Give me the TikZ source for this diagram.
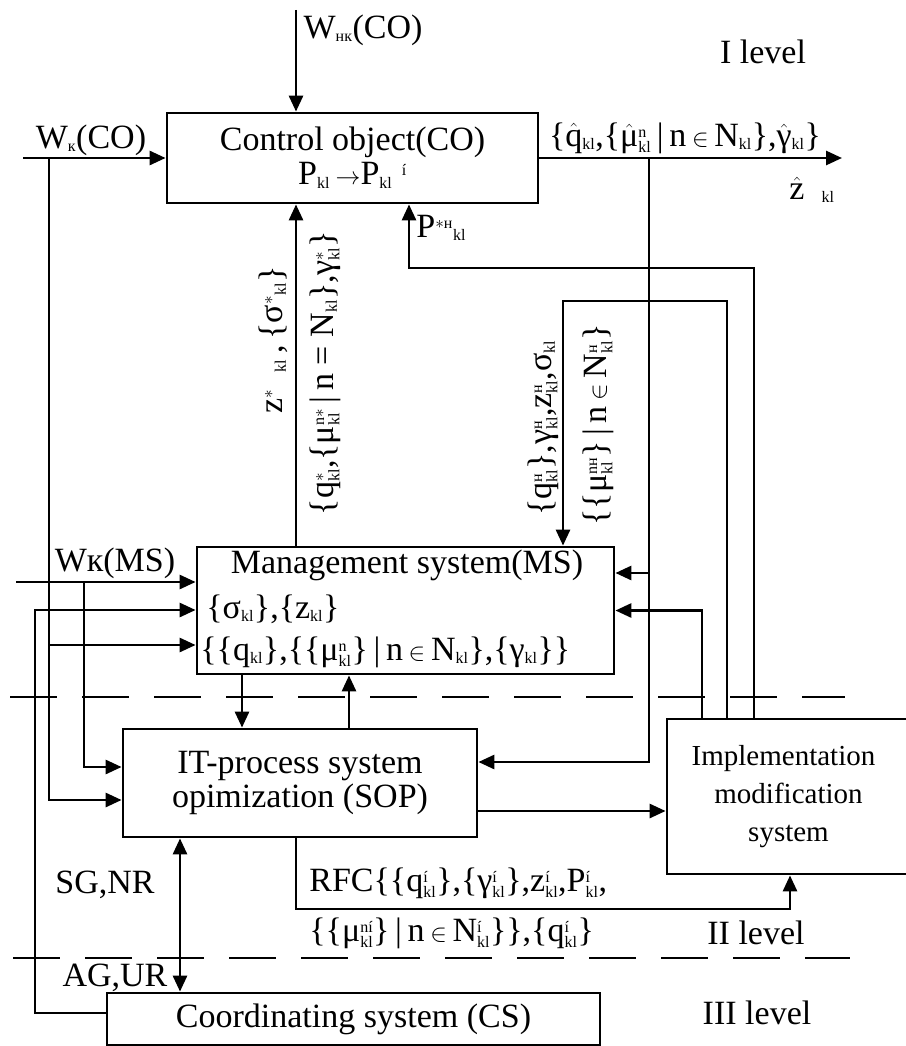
\documentclass[tikz,border=0pt]{standalone}
\usepackage{amsmath}
\usepackage{fontspec}
\setmainfont{Liberation Serif}
\usetikzlibrary{arrows.meta}
\DeclareMathSizes{34}{34}{16}{12}
\DeclareMathSizes{29}{29}{14}{10}
\newcommand{\subkl}{\ensuremath{_{\text{kl}}}}
\newcommand{\supkl}[1]{\ensuremath{^{\text{#1}}_{\text{kl}}}}

\begin{document}
\begin{tikzpicture}[x=1pt, y=-1pt, line width=2.8pt,
    >={Triangle[length=16pt, width=14pt]},
    every node/.style={font=\fontsize{34}{38}\selectfont, inner sep=0pt},
    block/.style={rectangle, draw, line width=2.8pt, align=center},
    levelline/.style={line width=2.8pt, dash pattern=on 47pt off 25pt}]
  \useasboundingbox (0,0) rectangle (905,1046);

  % boxes
  \node (co) [block, minimum width=371, minimum height=90] at (352.5,158)
    {Control object(CO)\\[-4pt]P\subkl\,$\rightarrow$P\subkl\ensuremath{^{\;\;\text{í}}}};
  \node (ms) [block, minimum width=417, minimum height=127] at (405.5,610.5) {};
  \node (sop) [block, minimum width=354, minimum height=108] at (300,783)
    {IT-process system\\[-4pt]opimization (SOP)};
  \node (ims) [block, minimum width=243, minimum height=155, font=\fontsize{29}{37}\selectfont] at (788.5,796.5)
    {\hspace*{-10pt}Implementation\\[1pt]modification\\[1pt]system};
  \node (cs) [block, minimum width=493, minimum height=52] at (353.5,1019) {Coordinating system (CS)};

  \node (mstitle) at (407,565) {Management system(MS)};
  \node (msin) [anchor=west] at (205,609) {\{σ\subkl\},\{z\subkl\}};
  \node (msout) [anchor=west] at (199,652) {\{\{q\subkl\},\{\{μ\supkl{n}\}\,|\,n\,$\in$\,N\subkl\},\{γ\subkl\}\}};

  % level separators
  \draw[levelline] (10,697) -- (845,697);
  \draw[levelline] (13,958) -- (850,958);
  \node (lv1) at (763,52) {I level};
  \node (lv2) at (756,933) {II level};
  \node (lv3) at (757,1013) {III level};

  % helper points
  \coordinate (wnk) at (296,10);
  \coordinate (wk) at (23,158);
  \coordinate (wkd) at (49,158);
  \coordinate (zout) at (842,158);
  \coordinate (fb) at (649,158);
  \coordinate (pst) at (409,268);
  \coordinate (hq) at (563,301);
  \coordinate (wm) at (16,582);
  \coordinate (wmd) at (84,582);
  \coordinate (csl) at (35,610);
  \coordinate (md) at (242,0);
  \coordinate (mu) at (349,0);
  \coordinate (sc) at (180,0);
  \coordinate (rfc) at (790,909);

  % level I
  \draw[->] (wnk) -- (co.north -| wnk);
  \node (wnklbl) at (363,30) {W$_{\text{нк}}$(CO)};
  \draw[->] (wk) -- (co.west);
  \node (wklbl) at (91,140) {W$_{\text{к}}$(CO)};
  \draw[->] (co.east) -- (zout);
  \node (outlbl) at (685,138) {\{$\hat{\text{q}}$\subkl,\{$\hat{\text{μ}}$\supkl{n}\,|\,n\,$\in$\,N\subkl\},$\hat{\text{γ}}$\subkl\}};
  \node (zlbl) at (812,190) {$\hat{\text{z}}$\enspace\subkl};

  \draw[->] (ms.north -| wnk) -- (co.south -| wnk);
  \node (zslbl) [rotate=90] at (273,340) {z$^{*}$\enspace\subkl\,,\,\{σ$^{*}$\subkl\}};
  \node (qslbl) [rotate=90] at (325,373) {\{q\supkl{$*$},\{μ\supkl{n$*$}\,|\,n = N\subkl\},γ\supkl{$*$}\}};

  \draw[->] ([xshift=-34.5pt]ims.north) |- (pst) -- (co.south -| pst);
  \node (pslbl) [anchor=west] at (415,228) {P$^{*\text{н}}$\subkl};

  \draw[->] ([xshift=-61.5pt]ims.north) |- (hq) -- (ms.north -| hq);
  \node (qhlbl) [rotate=90] at (543,428) {\{q\supkl{н}\},γ\supkl{н},z\supkl{н},σ\subkl};
  \node (muhlbl) [rotate=90] at (598,425) {\{\{μ\supkl{nн}\}\,|\,n\,$\in$\,N\supkl{н}\}};

  \draw[->] ([xshift=-86.5pt]ims.north) |- (ms.east);
  \draw[->] (fb) |- ([yshift=21pt]sop.east);
  \draw[->] ([yshift=37.5pt]ms.east -| fb) -- ([yshift=37.5pt]ms.east);

  % inputs on the left
  \draw[->] (wkd) |- ([yshift=-17pt]sop.west);
  \draw[->] ([yshift=-34.5pt]ms.west -| wkd) -- ([yshift=-34.5pt]ms.west);
  \draw[->] (wm) -- (wm -| ms.west);
  \node (wmlbl) at (115,563) {Wк(MS)};
  \draw[->] (wmd) |- ([yshift=16pt]sop.west);
  \draw[->] ([yshift=6pt]cs.west) -| (csl) -- (csl -| ms.west);

  % level II
  \draw[->] (ms.south -| md) -- (sop.north -| md);
  \draw[->] (sop.north -| mu) -- (ms.south -| mu);
  \draw[->] ([yshift=-28pt]sop.east) -- ([yshift=-28pt]sop.east -| ims.west);
  \draw[->] (sop.south -| wnk) |- (rfc) -- (ims.south -| rfc);
  \node (rfc1) [anchor=west] at (308,883) {RFC\{\{q\supkl{í}\},\{γ\supkl{í}\},z\supkl{í},P\supkl{í},};
  \node (rfc2) [anchor=west] at (308,933) {\{\{μ\supkl{ní}\}\,|\,n\,$\in$\,N\supkl{í}\}\},\{q\supkl{í}\}};

  % level III
  \draw[<->] (sop.south -| sc) -- (cs.north -| sc);
  \node (sglbl) at (105,885) {SG,NR};
  \node (aglbl) at (115,978) {AG,UR};
\end{tikzpicture}
\end{document}
